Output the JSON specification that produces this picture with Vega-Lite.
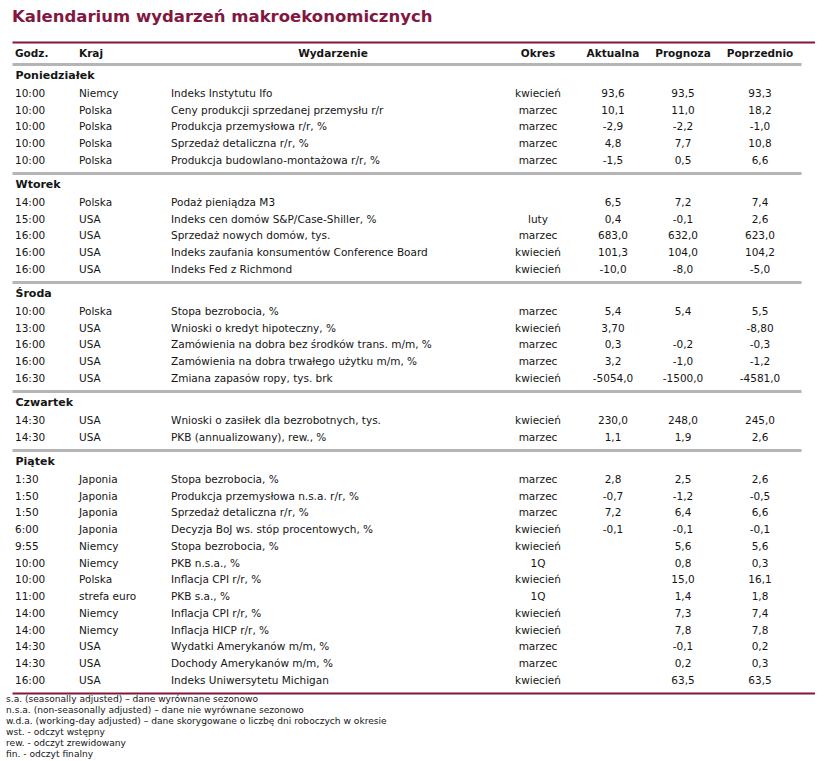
{
  "$schema": "https://vega.github.io/schema/vega-lite/v6.json",
  "padding": {"top": 8, "left": 0, "right": 0, "bottom": 0},
  "background": "white",
  "bounds": "flush",
  "title": {"text": "Kalendarium wydarzeń makroekonomicznych", "anchor": "start", "dx": 12, "fontSize": 16.5, "fontWeight": "bold", "font": "DejaVu Sans", "color": "#82173f", "offset": 4, "baseline": "alphabetic"},
  "spacing": 8,
  "datasets": {
    "columns": [
      {"key": "time", "i": 1, "name": "Godz."},
      {"key": "country", "i": 2, "name": "Kraj"},
      {"key": "event", "i": 3, "name": "Wydarzenie"},
      {"key": "period", "i": 4, "name": "Okres"},
      {"key": "act", "i": 5, "name": "Aktualna"},
      {"key": "fcst", "i": 6, "name": "Prognoza"},
      {"key": "prev", "i": 7, "name": "Poprzednio"}
    ],
    "events": [
      {"lp": 1, "day": "Poniedziałek", "time": "10:00", "country": "Niemcy", "event": "Indeks Instytutu Ifo", "period": "kwiecień", "act": "93,6", "fcst": "93,5", "prev": "93,3"},
      {"lp": 2, "day": "Poniedziałek", "time": "10:00", "country": "Polska", "event": "Ceny produkcji sprzedanej przemysłu r/r", "period": "marzec", "act": "10,1", "fcst": "11,0", "prev": "18,2"},
      {"lp": 3, "day": "Poniedziałek", "time": "10:00", "country": "Polska", "event": "Produkcja przemysłowa r/r, %", "period": "marzec", "act": "-2,9", "fcst": "-2,2", "prev": "-1,0"},
      {"lp": 4, "day": "Poniedziałek", "time": "10:00", "country": "Polska", "event": "Sprzedaż detaliczna r/r, %", "period": "marzec", "act": "4,8", "fcst": "7,7", "prev": "10,8"},
      {"lp": 5, "day": "Poniedziałek", "time": "10:00", "country": "Polska", "event": "Produkcja budowlano-montażowa r/r, %", "period": "marzec", "act": "-1,5", "fcst": "0,5", "prev": "6,6"},
      {"lp": 6, "day": "Wtorek", "time": "14:00", "country": "Polska", "event": "Podaż pieniądza M3", "period": "", "act": "6,5", "fcst": "7,2", "prev": "7,4"},
      {"lp": 7, "day": "Wtorek", "time": "15:00", "country": "USA", "event": "Indeks cen domów S&P/Case-Shiller, %", "period": "luty", "act": "0,4", "fcst": "-0,1", "prev": "2,6"},
      {"lp": 8, "day": "Wtorek", "time": "16:00", "country": "USA", "event": "Sprzedaż nowych domów, tys.", "period": "marzec", "act": "683,0", "fcst": "632,0", "prev": "623,0"},
      {"lp": 9, "day": "Wtorek", "time": "16:00", "country": "USA", "event": "Indeks zaufania konsumentów Conference Board", "period": "kwiecień", "act": "101,3", "fcst": "104,0", "prev": "104,2"},
      {"lp": 10, "day": "Wtorek", "time": "16:00", "country": "USA", "event": "Indeks Fed z Richmond", "period": "kwiecień", "act": "-10,0", "fcst": "-8,0", "prev": "-5,0"},
      {"lp": 11, "day": "Środa", "time": "10:00", "country": "Polska", "event": "Stopa bezrobocia, %", "period": "marzec", "act": "5,4", "fcst": "5,4", "prev": "5,5"},
      {"lp": 12, "day": "Środa", "time": "13:00", "country": "USA", "event": "Wnioski o kredyt hipoteczny, %", "period": "kwiecień", "act": "3,70", "fcst": "", "prev": "-8,80"},
      {"lp": 13, "day": "Środa", "time": "16:00", "country": "USA", "event": "Zamówienia na dobra bez środków trans. m/m, %", "period": "marzec", "act": "0,3", "fcst": "-0,2", "prev": "-0,3"},
      {"lp": 14, "day": "Środa", "time": "16:00", "country": "USA", "event": "Zamówienia na dobra trwałego użytku m/m, %", "period": "marzec", "act": "3,2", "fcst": "-1,0", "prev": "-1,2"},
      {"lp": 15, "day": "Środa", "time": "16:30", "country": "USA", "event": "Zmiana zapasów ropy, tys. brk", "period": "kwiecień", "act": "-5054,0", "fcst": "-1500,0", "prev": "-4581,0"},
      {"lp": 16, "day": "Czwartek", "time": "14:30", "country": "USA", "event": "Wnioski o zasiłek dla bezrobotnych, tys.", "period": "kwiecień", "act": "230,0", "fcst": "248,0", "prev": "245,0"},
      {"lp": 17, "day": "Czwartek", "time": "14:30", "country": "USA", "event": "PKB (annualizowany), rew., %", "period": "marzec", "act": "1,1", "fcst": "1,9", "prev": "2,6"},
      {"lp": 18, "day": "Piątek", "time": "1:30", "country": "Japonia", "event": "Stopa bezrobocia, %", "period": "marzec", "act": "2,8", "fcst": "2,5", "prev": "2,6"},
      {"lp": 19, "day": "Piątek", "time": "1:50", "country": "Japonia", "event": "Produkcja przemysłowa n.s.a. r/r, %", "period": "marzec", "act": "-0,7", "fcst": "-1,2", "prev": "-0,5"},
      {"lp": 20, "day": "Piątek", "time": "1:50", "country": "Japonia", "event": "Sprzedaż detaliczna r/r, %", "period": "marzec", "act": "7,2", "fcst": "6,4", "prev": "6,6"},
      {"lp": 21, "day": "Piątek", "time": "6:00", "country": "Japonia", "event": "Decyzja BoJ ws. stóp procentowych, %", "period": "kwiecień", "act": "-0,1", "fcst": "-0,1", "prev": "-0,1"},
      {"lp": 22, "day": "Piątek", "time": "9:55", "country": "Niemcy", "event": "Stopa bezrobocia, %", "period": "kwiecień", "act": "", "fcst": "5,6", "prev": "5,6"},
      {"lp": 23, "day": "Piątek", "time": "10:00", "country": "Niemcy", "event": "PKB n.s.a., %", "period": "1Q", "act": "", "fcst": "0,8", "prev": "0,3"},
      {"lp": 24, "day": "Piątek", "time": "10:00", "country": "Polska", "event": "Inflacja CPI r/r, %", "period": "kwiecień", "act": "", "fcst": "15,0", "prev": "16,1"},
      {"lp": 25, "day": "Piątek", "time": "11:00", "country": "strefa euro", "event": "PKB s.a., %", "period": "1Q", "act": "", "fcst": "1,4", "prev": "1,8"},
      {"lp": 26, "day": "Piątek", "time": "14:00", "country": "Niemcy", "event": "Inflacja CPI r/r, %", "period": "kwiecień", "act": "", "fcst": "7,3", "prev": "7,4"},
      {"lp": 27, "day": "Piątek", "time": "14:00", "country": "Niemcy", "event": "Inflacja HICP r/r, %", "period": "kwiecień", "act": "", "fcst": "7,8", "prev": "7,8"},
      {"lp": 28, "day": "Piątek", "time": "14:30", "country": "USA", "event": "Wydatki Amerykanów m/m, %", "period": "marzec", "act": "", "fcst": "-0,1", "prev": "0,2"},
      {"lp": 29, "day": "Piątek", "time": "14:30", "country": "USA", "event": "Dochody Amerykanów m/m, %", "period": "marzec", "act": "", "fcst": "0,2", "prev": "0,3"},
      {"lp": 30, "day": "Piątek", "time": "16:00", "country": "USA", "event": "Indeks Uniwersytetu Michigan", "period": "kwiecień", "act": "", "fcst": "63,5", "prev": "63,5"}
    ],
    "notes": [
      {"n": 1, "text": "s.a. (seasonally adjusted) – dane wyrównane sezonowo"},
      {"n": 2, "text": "n.s.a. (non-seasonally adjusted) – dane nie wyrównane sezonowo"},
      {"n": 3, "text": "w.d.a. (working-day adjusted) – dane skorygowane o liczbę dni roboczych w okresie"},
      {"n": 4, "text": "wst. - odczyt wstępny"},
      {"n": 5, "text": "rew. - odczyt zrewidowany"},
      {"n": 6, "text": "fin. - odczyt finalny"}
    ]
  },
  "vconcat": [
    {
      "width": 815, "height": 4,
      "data": {"name": "columns"},
      "mark": {"type": "text", "fontWeight": "bold", "align": {"expr": "datum.i <= 2 ? 'left' : 'center'"}},
      "encoding": {
        "x": {"field": "i", "type": "quantitative", "scale": {"domain": [0, 1, 2, 3, 4, 5, 6, 7, 8], "range": [12, 15, 79, 333, 538, 613, 683, 760, 815], "zero": false, "nice": false},
          "axis": {"orient": "top", "domainColor": "#82173f", "domainWidth": 2, "offset": 10, "title": null}},
        "text": {"field": "name", "type": "nominal"}
      }
    },
    {
      "width": 815, "height": {"step": 16.75},
      "data": {"name": "events"},
      "transform": [{"filter": "datum.day === 'Poniedziałek'"}, {"fold": ["time", "country", "event", "period", "act", "fcst", "prev"], "as": ["key", "value"]}, {"lookup": "key", "from": {"data": {"name": "columns"}, "key": "key", "fields": ["i"]}}],
      "mark": {"type": "text", "align": {"expr": "datum.i <= 3 ? 'left' : 'center'"}},
      "encoding": {
        "y": {"field": "lp", "type": "ordinal", "scale": {"type": "point", "padding": 1, "align": 0.8955}, "axis": null},
        "x": {"field": "i", "type": "quantitative", "scale": {"domain": [0, 1, 2, 3, 4, 5, 6, 7, 8], "range": [12, 15, 79, 171, 538, 613, 683, 760, 801], "zero": false, "nice": false},
          "axis": {"orient": "top", "title": "Poniedziałek"}},
        "text": {"field": "value", "type": "nominal"}
      }
    },
    {
      "width": 815, "height": {"step": 16.75},
      "data": {"name": "events"},
      "transform": [{"filter": "datum.day === 'Wtorek'"}, {"fold": ["time", "country", "event", "period", "act", "fcst", "prev"], "as": ["key", "value"]}, {"lookup": "key", "from": {"data": {"name": "columns"}, "key": "key", "fields": ["i"]}}],
      "mark": {"type": "text", "align": {"expr": "datum.i <= 3 ? 'left' : 'center'"}},
      "encoding": {
        "y": {"field": "lp", "type": "ordinal", "scale": {"type": "point", "padding": 1, "align": 0.8955}, "axis": null},
        "x": {"field": "i", "type": "quantitative", "scale": {"domain": [0, 1, 2, 3, 4, 5, 6, 7, 8], "range": [12, 15, 79, 171, 538, 613, 683, 760, 801], "zero": false, "nice": false},
          "axis": {"orient": "top", "title": "Wtorek"}},
        "text": {"field": "value", "type": "nominal"}
      }
    },
    {
      "width": 815, "height": {"step": 16.75},
      "data": {"name": "events"},
      "transform": [{"filter": "datum.day === 'Środa'"}, {"fold": ["time", "country", "event", "period", "act", "fcst", "prev"], "as": ["key", "value"]}, {"lookup": "key", "from": {"data": {"name": "columns"}, "key": "key", "fields": ["i"]}}],
      "mark": {"type": "text", "align": {"expr": "datum.i <= 3 ? 'left' : 'center'"}},
      "encoding": {
        "y": {"field": "lp", "type": "ordinal", "scale": {"type": "point", "padding": 1, "align": 0.8955}, "axis": null},
        "x": {"field": "i", "type": "quantitative", "scale": {"domain": [0, 1, 2, 3, 4, 5, 6, 7, 8], "range": [12, 15, 79, 171, 538, 613, 683, 760, 801], "zero": false, "nice": false},
          "axis": {"orient": "top", "title": "Środa"}},
        "text": {"field": "value", "type": "nominal"}
      }
    },
    {
      "width": 815, "height": {"step": 16.75},
      "data": {"name": "events"},
      "transform": [{"filter": "datum.day === 'Czwartek'"}, {"fold": ["time", "country", "event", "period", "act", "fcst", "prev"], "as": ["key", "value"]}, {"lookup": "key", "from": {"data": {"name": "columns"}, "key": "key", "fields": ["i"]}}],
      "mark": {"type": "text", "align": {"expr": "datum.i <= 3 ? 'left' : 'center'"}},
      "encoding": {
        "y": {"field": "lp", "type": "ordinal", "scale": {"type": "point", "padding": 1, "align": 0.8955}, "axis": null},
        "x": {"field": "i", "type": "quantitative", "scale": {"domain": [0, 1, 2, 3, 4, 5, 6, 7, 8], "range": [12, 15, 79, 171, 538, 613, 683, 760, 801], "zero": false, "nice": false},
          "axis": {"orient": "top", "title": "Czwartek"}},
        "text": {"field": "value", "type": "nominal"}
      }
    },
    {
      "width": 815, "height": {"step": 16.75},
      "data": {"name": "events"},
      "transform": [{"filter": "datum.day === 'Piątek'"}, {"fold": ["time", "country", "event", "period", "act", "fcst", "prev"], "as": ["key", "value"]}, {"lookup": "key", "from": {"data": {"name": "columns"}, "key": "key", "fields": ["i"]}}],
      "mark": {"type": "text", "align": {"expr": "datum.i <= 3 ? 'left' : 'center'"}},
      "encoding": {
        "y": {"field": "lp", "type": "ordinal", "scale": {"type": "point", "padding": 1, "align": 0.8955}, "axis": null},
        "x": {"field": "i", "type": "quantitative", "scale": {"domain": [0, 1, 2, 3, 4, 5, 6, 7, 8], "range": [12, 15, 79, 171, 538, 613, 683, 760, 801], "zero": false, "nice": false},
          "axis": {"orient": "top", "title": "Piątek"}},
        "text": {"field": "value", "type": "nominal"}
      }
    },
    {
      "width": 815, "height": {"step": 11},
      "data": {"name": "notes"},
      "mark": {"type": "text", "align": "left", "fontSize": 9.1, "dx": -6},
      "encoding": {
        "y": {"field": "n", "type": "ordinal", "scale": {"type": "point", "padding": 0.55}, "axis": null},
        "x": {"datum": 0, "type": "quantitative", "scale": {"domain": [0, 1], "range": [12, 815], "zero": false, "nice": false},
          "axis": {"orient": "top", "domainColor": "#82173f", "domainWidth": 2, "title": null}},
        "text": {"field": "text", "type": "nominal"}
      }
    }
  ],
  "config": {
    "view": {"stroke": null},
    "text": {"font": "DejaVu Sans", "fontSize": 10.5, "color": "#151515", "baseline": "middle"},
    "axis": {"ticks": false, "labels": false, "grid": false, "domainCap": "butt", "domainColor": "#b5b5b5", "domainWidth": 3, "offset": 0,
      "titleX": 15, "titleY": 11, "titleAlign": "left", "titleBaseline": "middle", "titleAngle": 0, "titleFont": "DejaVu Sans", "titleFontSize": 11, "titleFontWeight": "bold", "titleColor": "#151515", "titlePadding": 0}
  }
}
